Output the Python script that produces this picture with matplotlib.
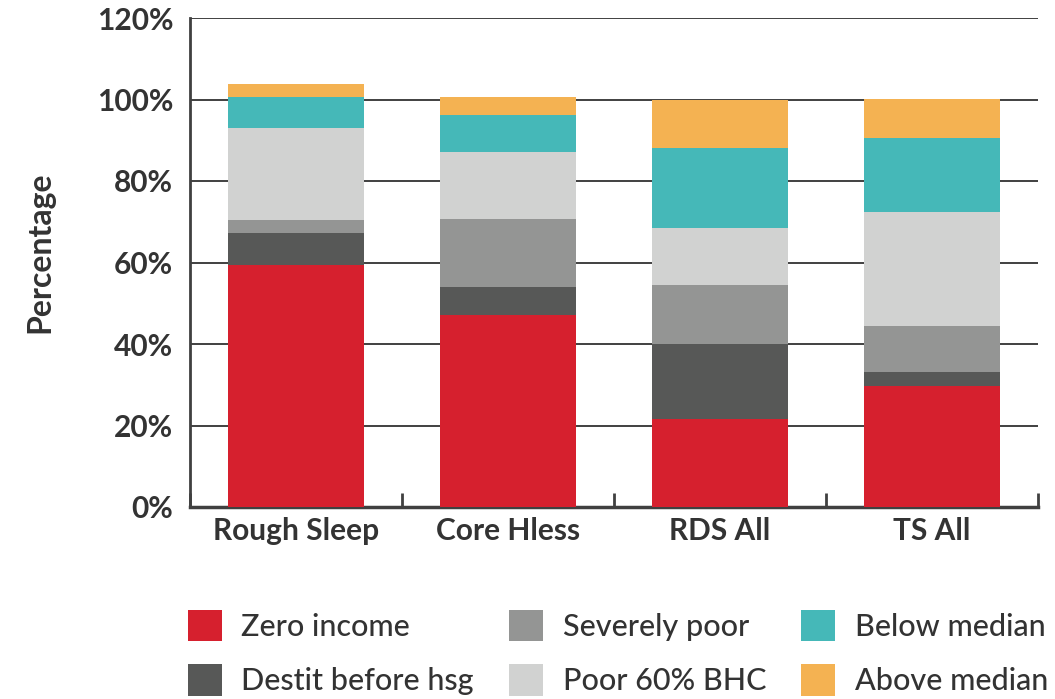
"""Stacked bar chart: income band shares by homelessness group."""

import numpy as np
import matplotlib.pyplot as plt
from matplotlib.patches import Patch

plt.rcParams['font.family'] = ['Lato', 'DejaVu Sans']

# --- Data (percent of each group) ---
groups = ["Rough Sleep", "Core Hless", "RDS All", "TS All"]
zero_income = [59.3, 47.1, 21.6, 29.8]
destit_before_hsg = [7.9, 6.8, 18.3, 3.4]
severely_poor = [3.2, 16.8, 14.7, 11.3]
poor_60_bhc = [22.5, 16.5, 13.8, 27.9]
below_median = [7.8, 8.9, 19.8, 18.2]
above_median = [3.2, 4.4, 11.8, 9.6]

series = [
    ("Zero income", zero_income, "#d6202e"),
    ("Destit before hsg", destit_before_hsg, "#575857"),
    ("Severely poor", severely_poor, "#949594"),
    ("Poor 60% BHC", poor_60_bhc, "#d1d2d1"),
    ("Below median", below_median, "#45b8b8"),
    ("Above median", above_median, "#f4b252"),
]

text_col = "#333333"
line_col = "#404040"

fig = plt.figure(figsize=(10.55, 6.99), dpi=100)
ax = fig.add_axes([190 / 1055, 1 - 507 / 699, 848 / 1055, 489 / 699])

x = np.arange(len(groups))
bottom = np.zeros(len(groups))
for name, vals, col in series:
    ax.bar(x, vals, width=0.64, bottom=bottom, color=col, label=name, zorder=3)
    bottom += np.array(vals)

# --- Axes styling ---
ax.set_xlim(-0.5, len(groups) - 0.5)
ax.set_ylim(0, 120)
ax.set_yticks(np.arange(0, 121, 20))
ax.set_yticklabels([f"{v}%" for v in range(0, 121, 20)])
ax.yaxis.grid(True, color=line_col, lw=1.4, zorder=0)
ax.spines[["top", "right"]].set_visible(False)
ax.spines["left"].set_color(line_col)
ax.spines["bottom"].set_color(line_col)
ax.spines["left"].set_linewidth(2)
ax.spines["bottom"].set_linewidth(2.5)

ax.set_xticks(x)
ax.set_xticklabels(groups)
ax.set_xticks(np.arange(-0.5, len(groups)), minor=True)
ax.tick_params(axis="x", which="major", length=0, pad=7,
               labelsize=21.5, labelcolor=text_col)
ax.tick_params(axis="x", which="minor", direction="in", length=10,
               width=2, color=line_col)
ax.tick_params(axis="y", length=0, pad=12, labelsize=21.5, labelcolor=text_col)
for lbl in ax.get_xticklabels() + ax.get_yticklabels():
    lbl.set_fontweight("bold")

ax.set_ylabel("Percentage", fontsize=23, fontweight="bold", color=text_col)
ax.yaxis.set_label_coords(-0.160, 0.52)

handles = [Patch(facecolor=col, label=name) for name, _, col in series]
fig.legend(handles=handles, ncol=3, frameon=False,
           loc="upper left", bbox_to_anchor=(188 / 1055, 1 - 610 / 699),
           borderpad=0, borderaxespad=0,
           prop={"size": 22, "weight": "medium"}, labelcolor=text_col,
           handlelength=1.1, handleheight=1.2, handletextpad=0.65,
           columnspacing=1.15, labelspacing=0.75)

fig.savefig("out.png", dpi=100)
